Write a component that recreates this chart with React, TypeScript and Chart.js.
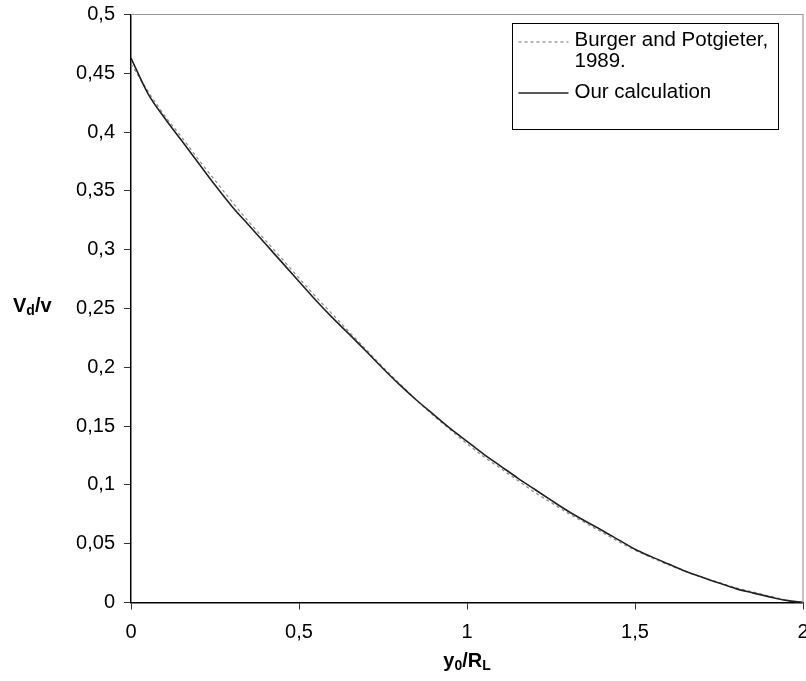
import React, { useEffect, useRef } from "react";
import { Chart, registerables } from "chart.js";

Chart.register(...registerables);

const xValues = [0, 0.05, 0.1, 0.15, 0.2, 0.25, 0.3, 0.35, 0.4, 0.45, 0.5, 0.55, 0.6, 0.65, 0.7, 0.75, 0.8, 0.85, 0.9, 0.95, 1.0, 1.05, 1.1, 1.15, 1.2, 1.25, 1.3, 1.35, 1.4, 1.45, 1.5, 1.55, 1.6, 1.65, 1.7, 1.75, 1.8, 1.85, 1.9, 1.95, 2.0];
const ourCalculation = [0.463, 0.433, 0.412, 0.393, 0.374, 0.355, 0.337, 0.321, 0.305, 0.289, 0.273, 0.257, 0.242, 0.228, 0.2136, 0.199, 0.185, 0.172, 0.160, 0.148, 0.137, 0.126, 0.116, 0.106, 0.0965, 0.087, 0.0778, 0.0695, 0.0617, 0.0535, 0.0453, 0.0388, 0.0327, 0.0266, 0.0214, 0.0165, 0.0118, 0.0082, 0.0048, 0.0018, 0];
const burgerPotgieter = [0.458, 0.435, 0.414, 0.396, 0.377, 0.359, 0.341, 0.324, 0.308, 0.292, 0.276, 0.260, 0.245, 0.230, 0.215, 0.200, 0.186, 0.172, 0.159, 0.147, 0.135, 0.124, 0.114, 0.104, 0.094, 0.085, 0.076, 0.068, 0.060, 0.052, 0.0445, 0.038, 0.032, 0.0265, 0.0215, 0.017, 0.0125, 0.009, 0.0055, 0.002, 0];
const legendLabels = ["Burger and Potgieter,", "1989.", "Our calculation"];
const FONT = "Arial, 'Liberation Sans', sans-serif";

const fmt = (v: number) => String(Number(v.toFixed(2))).replace(".", ",");

const decorPlugin = {
  id: "decor",
  afterDraw(chart: any) {
    const ctx = chart.ctx;
    const a = chart.chartArea;
    ctx.save();
    // top & right frame (gray)
    ctx.strokeStyle = "#9a9a9a";
    ctx.lineWidth = 1.2;
    ctx.beginPath();
    ctx.moveTo(a.left, a.top);
    ctx.lineTo(a.right, a.top);
    ctx.lineTo(a.right, a.bottom);
    ctx.stroke();

    // legend box
    const bx = a.right - 290.5;
    const by = a.top + 9;
    ctx.strokeStyle = "#000";
    ctx.lineWidth = 1;
    ctx.strokeRect(bx, by, 266, 106);
    ctx.font = `20.5px ${FONT}`;
    ctx.fillStyle = "#000";
    ctx.textBaseline = "middle";
    ctx.textAlign = "left";
    // dashed sample
    ctx.strokeStyle = "#888";
    ctx.lineWidth = 1.2;
    ctx.setLineDash([3, 3]);
    ctx.beginPath();
    ctx.moveTo(bx + 6, by + 18.5);
    ctx.lineTo(bx + 56, by + 18.5);
    ctx.stroke();
    ctx.setLineDash([]);
    ctx.fillText(legendLabels[0], bx + 62, by + 17);
    ctx.fillText(legendLabels[1], bx + 62, by + 38);
    // solid sample
    ctx.strokeStyle = "#222";
    ctx.lineWidth = 1.5;
    ctx.beginPath();
    ctx.moveTo(bx + 6, by + 69.5);
    ctx.lineTo(bx + 56, by + 69.5);
    ctx.stroke();
    ctx.fillText(legendLabels[2], bx + 62, by + 69);

    // y axis title V_d/v
    const cy = (a.top + a.bottom) / 2 - 2;
    let x = 13;
    ctx.font = `bold 20px ${FONT}`;
    ctx.textBaseline = "middle";
    ctx.fillText("V", x, cy);
    x += ctx.measureText("V").width;
    ctx.font = `bold 14px ${FONT}`;
    ctx.fillText("d", x, cy + 5);
    x += ctx.measureText("d").width;
    ctx.font = `bold 20px ${FONT}`;
    ctx.fillText("/v", x, cy);

    // x axis title y0/RL
    const parts: [string, boolean][] = [["y", false], ["0", true], ["/R", false], ["L", true]];
    let total = 0;
    for (const [t, sub] of parts) {
      ctx.font = `bold ${sub ? 14 : 20}px ${FONT}`;
      total += ctx.measureText(t).width;
    }
    let xx = (a.left + a.right) / 2 - total / 2;
    const ty = 661;
    for (const [t, sub] of parts) {
      ctx.font = `bold ${sub ? 14 : 20}px ${FONT}`;
      ctx.fillText(t, xx, sub ? ty + 5 : ty);
      xx += ctx.measureText(t).width;
    }
    ctx.restore();
  },
};

export default function App() {
  const ref = useRef<HTMLCanvasElement>(null);
  useEffect(() => {
    document.body.style.margin = "0";
    const ctx = ref.current!.getContext("2d")!;
    const chart = new Chart(ctx, {
      type: "line",
      data: {
        datasets: [
          {
            label: "Our calculation",
            data: xValues.map((x, i) => ({ x, y: ourCalculation[i] })),
            borderColor: "#222",
            borderWidth: 1.6,
            pointRadius: 0,
            cubicInterpolationMode: "monotone",
            order: 0,
          },
          {
            label: "Burger and Potgieter, 1989.",
            data: xValues.map((x, i) => ({ x, y: burgerPotgieter[i] })),
            borderColor: "#8a8a8a",
            borderWidth: 1.2,
            borderDash: [3, 3],
            pointRadius: 0,
            cubicInterpolationMode: "monotone",
            order: 1,
          },
        ],
      },
      options: {
        animation: false,
        responsive: true,
        maintainAspectRatio: false,
        layout: { padding: { top: 14.5, right: 3, left: 0, bottom: 0 } },
        plugins: { legend: { display: false }, tooltip: { enabled: false } },
        scales: {
          x: {
            type: "linear",
            min: 0,
            max: 2,
            grid: { drawOnChartArea: false, drawTicks: true, tickLength: 7, color: "#333" },
            border: { color: "#000", width: 1.5 },
            ticks: {
              stepSize: 0.5,
              padding: 11,
              color: "#000",
              font: { family: FONT, size: 20 },
              maxRotation: 0,
              callback: (v: any) => fmt(Number(v)),
            },
            afterFit: (s: any) => {
              s.height = 78.5;
              s.paddingLeft = 0;
              s.paddingRight = 0;
            },
          },
          y: {
            min: 0,
            max: 0.5,
            grid: { drawOnChartArea: false, drawTicks: true, tickLength: 7, color: "#333" },
            border: { color: "#000", width: 1.5 },
            ticks: {
              stepSize: 0.05,
              padding: 9,
              color: "#000",
              font: { family: FONT, size: 20 },
              callback: (v: any) => fmt(Number(v)),
            },
            afterFit: (s: any) => {
              s.width = 131;
              s.paddingTop = 0;
              s.paddingBottom = 0;
            },
          },
        },
      },
      plugins: [decorPlugin],
    } as any);
    return () => chart.destroy();
  }, []);
  return (
    <div style={{ position: "fixed", left: 0, top: 0, width: 806, height: 681, background: "#fff" }}>
      <canvas ref={ref} />
    </div>
  );
}
